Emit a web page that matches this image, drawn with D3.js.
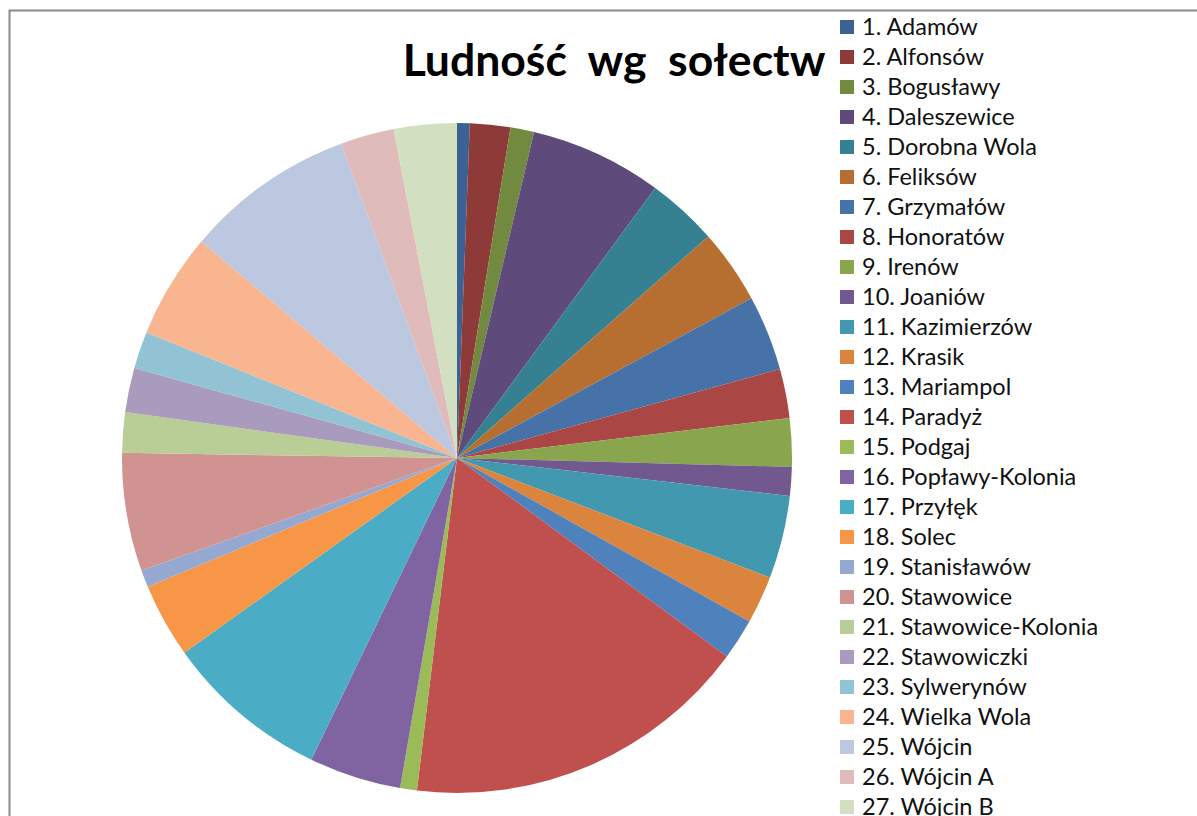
<!DOCTYPE html>
<meta charset="utf-8">
<style>
body { margin: 0; background: #fff; }
.title { font-family: Lato, "Noto Sans", sans-serif; font-weight: bold; font-size: 44.5px; white-space: pre; }
.legend text { font-family: Lato, "Noto Sans", sans-serif; font-size: 23.5px; fill: #111; }
</style>
<svg width="1197" height="816"></svg>
<script src="https://cdnjs.cloudflare.com/ajax/libs/d3/7.8.5/d3.min.js"></script>
<script>

var svg = d3.select("svg"),
    width = +svg.attr("width"),
    height = +svg.attr("height");

// sołectwa and their population
var names = ["1. Adamów", "2. Alfonsów", "3. Bogusławy", "4. Daleszewice", "5. Dorobna Wola",
  "6. Feliksów", "7. Grzymałów", "8. Honoratów", "9. Irenów", "10. Joaniów", "11. Kazimierzów",
  "12. Krasik", "13. Mariampol", "14. Paradyż", "15. Podgaj", "16. Popławy-Kolonia", "17. Przyłęk",
  "18. Solec", "19. Stanisławów", "20. Stawowice", "21. Stawowice-Kolonia", "22. Stawowiczki",
  "23. Sylwerynów", "24. Wielka Wola", "25. Wójcin", "26. Wójcin A", "27. Wójcin B"];

var population = [55, 175, 103, 575, 308, 323, 328, 213, 210, 125, 360, 208, 178,
  1515, 73, 400, 718, 323, 75, 513, 175, 193, 160, 458, 738, 233, 273];

var colors = ["#3b6293", "#8e3a38", "#728a3f", "#5e4a7b", "#358192", "#b76f31",
  "#4672a8", "#aa4744", "#89a54e", "#71588f", "#4198af", "#db843d",
  "#4f81bd", "#c0504d", "#9bbb59", "#8064a2", "#4bacc6", "#f79646",
  "#95a9d0", "#d19392", "#b9cd96", "#a99bbd", "#92c3d4", "#f9b590",
  "#bcc8e0", "#e0bbbb", "#d2dfc0"];

// chart frame (bottom and right are cut off)
svg.append("rect")
    .attr("x", 9.5).attr("y", 10.5)
    .attr("width", 1300).attr("height", 900)
    .attr("fill", "none")
    .attr("stroke", "#8a8a8a")
    .attr("stroke-width", 2);

svg.append("text")
    .attr("class", "title")
    .attr("x", 614).attr("y", 76)
    .attr("text-anchor", "middle")
    .text("Ludność  wg  sołectw");

var pie = d3.pie().sort(null);
var arc = d3.arc().innerRadius(0).outerRadius(335);

svg.append("g")
    .attr("transform", "translate(457,458)")
  .selectAll("path")
    .data(pie(population))
    .enter().append("path")
    .attr("d", arc)
    .attr("fill", function(d, i) { return colors[i]; });

var legend = svg.append("g")
    .attr("class", "legend")
    .attr("transform", "translate(840,20)");

var item = legend.selectAll("g")
    .data(names)
    .enter().append("g")
    .attr("transform", function(d, i) { return "translate(0," + i * 30 + ")"; });

item.append("rect")
    .attr("width", 14).attr("height", 14)
    .attr("fill", function(d, i) { return colors[i]; });

item.append("text")
    .attr("x", 22).attr("y", 15)
    .text(function(d) { return d; });

</script>
